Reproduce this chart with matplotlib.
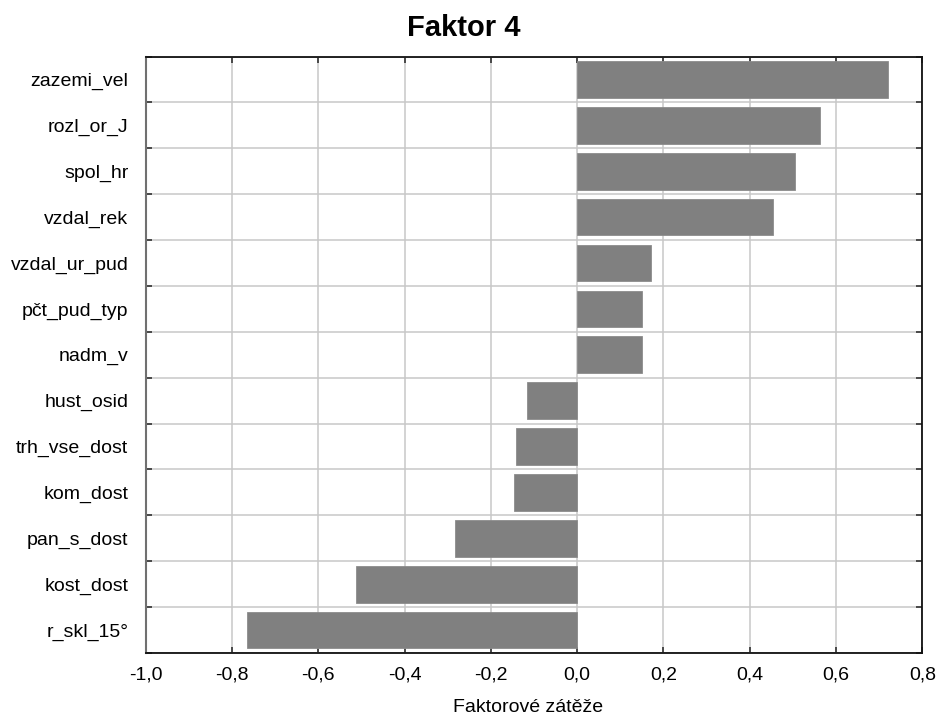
import matplotlib
matplotlib.use("Agg")
import matplotlib.pyplot as plt
import numpy as np

plt.rcParams['font.family'] = ['Liberation Sans', 'DejaVu Sans']

categories = ["zazemi_vel", "rozl_or_J", "spol_hr", "vzdal_rek", "vzdal_ur_pud",
              "pčt_pud_typ", "nadm_v", "hust_osid", "trh_vse_dost", "kom_dost",
              "pan_s_dost", "kost_dost", "r_skl_15°"]
values = [0.72, 0.562, 0.504, 0.453, 0.172, 0.151, 0.151,
          -0.117, -0.141, -0.147, -0.283, -0.513, -0.765]
xticks = [-1.0, -0.8, -0.6, -0.4, -0.2, 0.0, 0.2, 0.4, 0.6, 0.8]
xticklabels = ["-1,0", "-0,8", "-0,6", "-0,4", "-0,2", "0,0", "0,2", "0,4", "0,6", "0,8"]

W, H = 937, 715
fig = plt.figure(figsize=(W/100, H/100), dpi=100)
left, right, top, bottom = 145.8, 922.3, 56.5, 653
ax = fig.add_axes([left/W, 1-bottom/H, (right-left)/W, (bottom-top)/H])

n = len(categories)
ypos = np.arange(n)[::-1]  # first category at top
ax.barh(ypos, values, height=0.8, color='#808080', edgecolor='#8c8c8c', linewidth=0.6, zorder=3)

ax.set_xlim(-1.0, 0.8)
ax.set_ylim(-0.5, n - 0.5)

# gridlines / ticks at category boundaries
bounds = np.arange(-0.5, n, 1.0)
ax.set_yticks(bounds)
ax.set_yticklabels([])
ax.set_yticks(ypos, minor=True)
ax.set_yticklabels(categories, minor=True, fontsize=14)
ax.tick_params(axis='y', which='minor', length=0, pad=12.5)
ax.tick_params(axis='y', which='major', direction='in', length=4, width=1.2,
               color='#303030', left=True, right=True)

ax.set_xticks(xticks)
ax.set_xticklabels(xticklabels, fontsize=14)
ax.tick_params(axis='x', which='major', direction='in', length=4, width=1.2,
               color='#303030', bottom=True, top=True, pad=10)

ax.set_axisbelow(True)
ax.grid(True, which='major', color='#c8c8c8', linewidth=1.1, zorder=0)

for s in ['top', 'right', 'bottom']:
    ax.spines[s].set_color('#111111')
    ax.spines[s].set_linewidth(1.3)
ax.spines['left'].set_color('#707070')
ax.spines['left'].set_linewidth(1.5)

fig.text(464/W, 1 - 35.5/H, "Faktor 4", ha='center', va='baseline',
         fontsize=21, fontweight='bold')
fig.text(528/W, 1 - 711.5/H, "Faktorové zátěže", ha='center', va='baseline',
         fontsize=14)

fig.savefig("out.png", dpi=100)
